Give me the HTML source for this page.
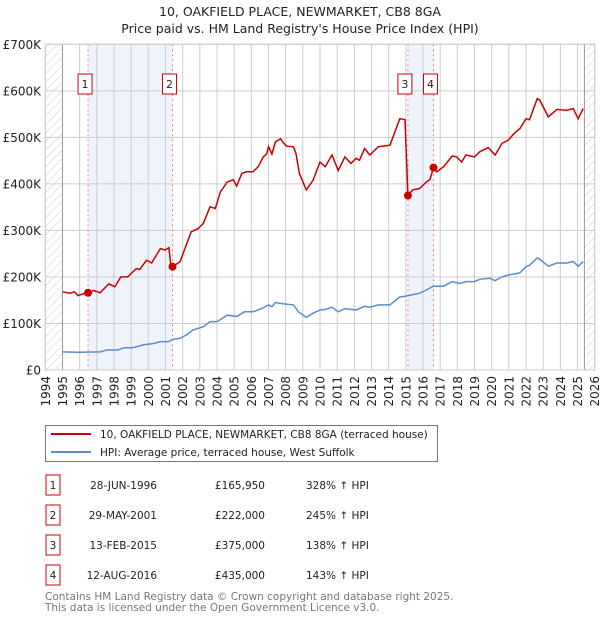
<!DOCTYPE html>
<html><head><meta charset="utf-8">
<style>
body{margin:0;background:#fff;font-family:"Liberation Sans","DejaVu Sans",sans-serif;}
svg text{font-family:"DejaVu Sans","Liberation Sans",sans-serif;}
</style></head>
<body>
<svg id="chart" width="600" height="620" xmlns="http://www.w3.org/2000/svg">
<defs>
<pattern id="hatch" width="6" height="6" patternUnits="userSpaceOnUse" patternTransform="rotate(45)">
<line x1="0" y1="0" x2="0" y2="6" stroke="#ccc" stroke-width="1"/>
</pattern>
</defs>
<text x="300" y="16" text-anchor="middle" font-size="12.5" fill="#222">10, OAKFIELD PLACE, NEWMARKET, CB8 8GA</text>
<text x="300" y="33" text-anchor="middle" font-size="12.5" fill="#222">Price paid vs. HM Land Registry's House Price Index (HPI)</text>
<g id="plot"></g>
<g id="legend">
<rect x="45.5" y="425.5" width="392" height="36" fill="#fff" stroke="#777"/>
<line x1="51" y1="434" x2="91" y2="434" stroke="#cc0000" stroke-width="2"/>
<text x="100" y="438" font-size="10.5" fill="#222">10, OAKFIELD PLACE, NEWMARKET, CB8 8GA (terraced house)</text>
<line x1="51" y1="452" x2="91" y2="452" stroke="#5b8bd0" stroke-width="2"/>
<text x="100" y="456" font-size="10.5" fill="#222">HPI: Average price, terraced house, West Suffolk</text>
</g>
<g id="table"></g>
<text x="45" y="600" font-size="10.5" fill="#777">Contains HM Land Registry data © Crown copyright and database right 2025.</text>
<text x="45" y="611" font-size="10.5" fill="#777">This data is licensed under the Open Government Licence v3.0.</text>
</svg>
<script>
const yearTicks=[1994,1995,1996,1997,1998,1999,2000,2001,2002,2003,2004,2005,2006,2007,2008,2009,2010,2011,2012,2013,2014,2015,2016,2017,2018,2019,2020,2021,2022,2023,2024,2025,2026];
const valueTicks=[0,100,200,300,400,500,600,700];
const valueTickLabels=["£0","£100K","£200K","£300K","£400K","£500K","£600K","£700K"];
const redYears=[1995.0,1995.44,1995.7,1995.9,1996.4,1996.49,1996.8,1997.2,1997.7,1998.06,1998.4,1998.8,1999.3,1999.5,1999.9,2000.2,2000.7,2000.97,2001.2,2001.3,2001.41,2001.85,2002.1,2002.5,2002.9,2003.2,2003.6,2003.9,2004.2,2004.6,2004.95,2005.15,2005.44,2005.7,2006.1,2006.4,2006.7,2006.9,2007.0,2007.2,2007.4,2007.7,2007.9,2008.06,2008.45,2008.6,2008.8,2009.2,2009.6,2010.0,2010.3,2010.7,2011.06,2011.45,2011.8,2012.1,2012.3,2012.6,2012.9,2013.4,2014.07,2014.65,2014.95,2015.12,2015.4,2015.8,2016.2,2016.4,2016.61,2016.8,2017.2,2017.7,2017.96,2018.25,2018.5,2019.0,2019.3,2019.8,2020.2,2020.6,2020.96,2021.3,2021.65,2022.0,2022.2,2022.65,2022.8,2023.3,2023.8,2024.36,2024.75,2025.04,2025.33];
const redValues=[168,165,168,160,166,166,171,166,185,179,200,200,218,216,236,230,261,258,263,229,222,233,258,297,304,315,351,347,383,404,409,395,422,426,426,437,458,465,480,464,490,497,487,481,480,465,422,387,408,447,437,462,429,458,444,455,451,476,462,480,483,540,538,375,387,390,404,409,435,426,437,460,458,447,462,458,469,478,462,487,494,508,519,540,538,583,580,544,560,558,562,540,562];
const blueYears=[1995,1995.9,1997.2,1997.6,1998.2,1998.6,1999.1,1999.7,2000.3,2000.7,2001.2,2001.4,2001.85,2002.2,2002.6,2003.2,2003.6,2004.0,2004.6,2004.95,2005.15,2005.6,2006.1,2006.6,2007.0,2007.2,2007.4,2007.9,2008.45,2008.75,2009.2,2009.6,2010.0,2010.3,2010.7,2011.06,2011.45,2012.1,2012.6,2012.9,2013.4,2014.07,2014.65,2015.04,2015.8,2016.2,2016.6,2017.2,2017.7,2018.15,2018.5,2019.0,2019.3,2019.9,2020.2,2020.6,2020.96,2021.65,2022.0,2022.2,2022.65,2022.8,2023.3,2023.8,2024.36,2024.75,2025.04,2025.33];
const blueValues=[39,38,39,43,43,48,48,54,57,61,61,66,68,75,86,93,104,104,118,116,115,125,125,132,140,136,145,142,140,125,113,122,129,130,135,125,132,129,137,135,140,140,157,159,165,172,180,180,190,186,190,190,195,197,192,200,204,209,222,225,241,238,223,230,230,233,223,233];
const saleIds=["1","2","3","4"];
const saleYears=[1996.49,2001.41,2015.12,2016.61];
const saleValues=[165.95,222,375,435];
const saleDates=["28-JUN-1996","29-MAY-2001","13-FEB-2015","12-AUG-2016"];
const salePrices=["£165,950","£222,000","£375,000","£435,000"];
const salePcts=["328% ↑ HPI","245% ↑ HPI","138% ↑ HPI","143% ↑ HPI"];
const dataEndYear=2025.4;

const NS="http://www.w3.org/2000/svg";
const X0=45.3,X1=594.7,Y0=370,Y1=44.3;
const xs=y=>X0+(y-1994)/(2026-1994)*(X1-X0);
const ys=v=>Y0-v/700*(Y0-Y1);
const plot=document.getElementById('plot');
function mk(tag,attrs,parent){const e=document.createElementNS(NS,tag);for(const k in attrs)e.setAttribute(k,attrs[k]);(parent||plot).appendChild(e);return e;}

let r=mk('rect',{x:X0,y:Y1,width:X1-X0,height:Y0-Y1,fill:'#fff'});


for(let i=0;i<2;i++){
  const a=xs(saleYears[i*2]),b=xs(saleYears[i*2+1]);
  const s=mk('rect',{x:a,y:Y1,width:b-a,height:Y0-Y1,fill:'#eef3fc'});
  
  
}
valueTicks.forEach((v,i)=>{
  const g=mk('line',{x1:X0,x2:X1,y1:ys(v),y2:ys(v),stroke:'#ccc','stroke-width':1});
  
  
  const t=mk('text',{x:41,y:ys(v)+4.5,'text-anchor':'end','font-size':12,fill:'#222'});
  t.textContent=valueTickLabels[i];
  
  
});
yearTicks.forEach(yr=>{
  const g=mk('line',{x1:xs(yr),x2:xs(yr),y1:Y1,y2:Y0,stroke:'#ccc','stroke-width':1});
  
  
  const t=mk('text',{x:0,y:0,'text-anchor':'end','font-size':12,fill:'#222',transform:`translate(${xs(yr)+4.5},${Y0+6}) rotate(-90)`});
  t.textContent=yr;
  
  
});
let h1=mk('rect',{x:X0,y:Y1,width:xs(1995)-X0,height:Y0-Y1,fill:'url(#hatch)'});


let h2=mk('rect',{x:xs(dataEndYear),y:Y1,width:X1-xs(dataEndYear),height:Y0-Y1,fill:'url(#hatch)'});


let e1=mk('line',{x1:xs(1995),x2:xs(1995),y1:Y1,y2:Y0,stroke:'#999'});


let e2=mk('line',{x1:xs(dataEndYear),x2:xs(dataEndYear),y1:Y1,y2:Y0,stroke:'#999'});


saleYears.forEach((yr,i)=>{
  const l=mk('line',{x1:xs(yr),x2:xs(yr),y1:Y1,y2:Y0,stroke:'#f08080','stroke-dasharray':'2,3'});
  
  
});
const pts=(xa,va)=>xa.map((x,i)=>xs(x).toFixed(1)+','+ys(va[i]).toFixed(1)).join(' ');
let bl=mk('polyline',{points:pts(blueYears,blueValues),fill:'none',stroke:'#5b8bd0','stroke-width':1.5});


let rl=mk('polyline',{points:pts(redYears,redValues),fill:'none',stroke:'#cc0000','stroke-width':1.5});


saleYears.forEach((yr,i)=>{
  const c=mk('circle',{cx:xs(yr),cy:ys(saleValues[i]),r:4,fill:'#cc0000'});
  
  
  const bx=mk('rect',{x:xs(yr)-10,y:74,width:14,height:20,fill:'#fff',stroke:'#cc0000'});
  
  
  const t=mk('text',{x:xs(yr)-3,y:88,'text-anchor':'middle','font-size':11,fill:'#222'});
  t.textContent=saleIds[i];
  
  
});
let fr=mk('rect',{x:X0,y:Y1,width:X1-X0,height:Y0-Y1,fill:'none',stroke:'#ccc'});



const tbl=document.getElementById('table');
saleIds.forEach((id,i)=>{
  const cy=485+i*30;
  const b=mk('rect',{x:46,y:cy-10,width:14,height:20,fill:'#fff',stroke:'#cc0000'},tbl);
  
  
  const cols=[[53,'middle',id],[157,'end',saleDates[i]],[265,'end',salePrices[i]],[306,'start',salePcts[i]]];
  cols.forEach(([x,a,s],j)=>{
    const t=mk('text',{x:x,y:cy+4,'text-anchor':a,'font-size':10.5,fill:'#222'},tbl);
    t.textContent=s;
    
    
  });
});
</script>
</body></html>
